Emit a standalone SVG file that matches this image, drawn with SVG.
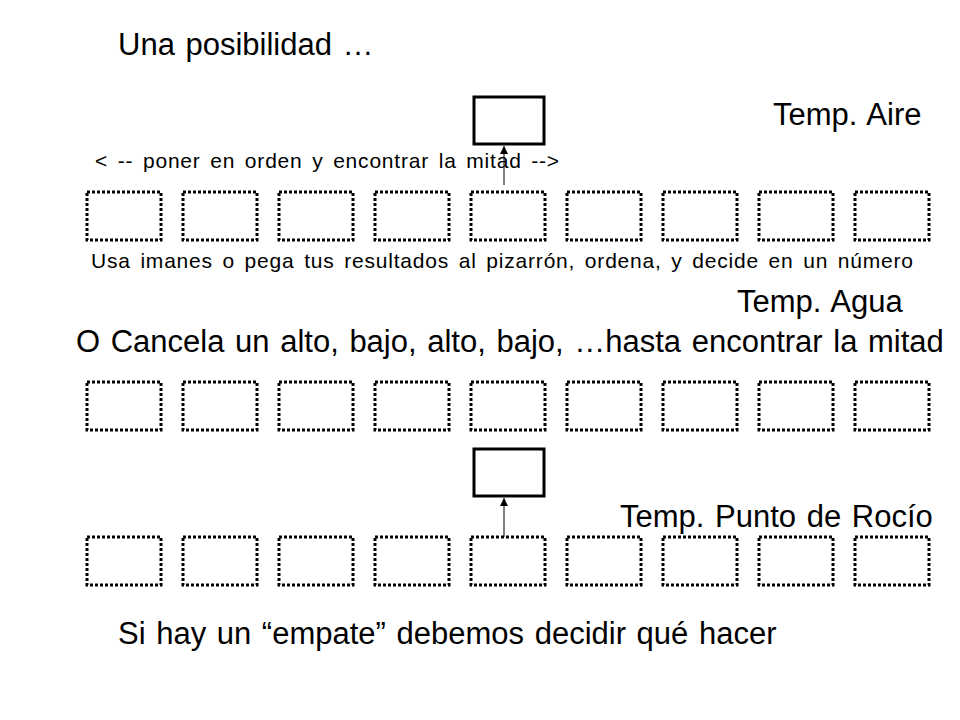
<svg xmlns="http://www.w3.org/2000/svg" width="960" height="720" viewBox="0 0 960 720">
<style>
text{font-family:"Liberation Sans",Arial,sans-serif;fill:#000}
.big{font-size:31px;word-spacing:2px}
.small{font-size:21px;letter-spacing:0.8px;word-spacing:3px}
.dot{fill:none;stroke:#000;stroke-width:3;stroke-dasharray:3 2}
.solid{fill:#fff;stroke:#000;stroke-width:3}
.conn{stroke:#000;stroke-width:1;fill:none}
</style>
<defs>
<marker id="ah" viewBox="0 0 10 10" refX="10" refY="5" markerWidth="8" markerHeight="8" markerUnits="userSpaceOnUse" orient="auto"><path d="M0,0 L10,5 L0,10 z" fill="#000"/></marker>
<rect id="db" class="dot" width="74" height="48"/>
</defs>
<text class="big" x="118" y="55">Una posibilidad  …</text>
<text class="big" x="773" y="125">Temp. Aire</text>
<text class="small" x="95" y="168">&lt; -- poner en orden y encontrar la mitad --&gt;</text>
<text class="small" x="91" y="268">Usa imanes o pega tus resultados al pizarrón, ordena, y decide en un número</text>
<text class="big" x="737" y="312">Temp. Agua</text>
<text class="big" x="76" y="352">O Cancela un alto, bajo, alto, bajo, …hasta encontrar la mitad</text>
<text class="big" x="620" y="527">Temp. Punto de Rocío</text>
<text class="big" x="118" y="644">Si hay un “empate” debemos decidir qué hacer</text>
<g id="row1">
<use href="#db" x="87" y="192"/><use href="#db" x="183" y="192"/><use href="#db" x="279" y="192"/><use href="#db" x="375" y="192"/><use href="#db" x="471" y="192"/><use href="#db" x="567" y="192"/><use href="#db" x="663" y="192"/><use href="#db" x="759" y="192"/><use href="#db" x="855" y="192"/>
</g>
<g id="row2">
<use href="#db" x="87" y="382"/><use href="#db" x="183" y="382"/><use href="#db" x="279" y="382"/><use href="#db" x="375" y="382"/><use href="#db" x="471" y="382"/><use href="#db" x="567" y="382"/><use href="#db" x="663" y="382"/><use href="#db" x="759" y="382"/><use href="#db" x="855" y="382"/>
</g>
<g id="row3">
<use href="#db" x="87" y="537"/><use href="#db" x="183" y="537"/><use href="#db" x="279" y="537"/><use href="#db" x="375" y="537"/><use href="#db" x="471" y="537"/><use href="#db" x="567" y="537"/><use href="#db" x="663" y="537"/><use href="#db" x="759" y="537"/><use href="#db" x="855" y="537"/>
</g>
<g id="median-top"><rect class="solid" x="474" y="97" width="70" height="47"/></g>
<g id="median-bottom"><rect class="solid" x="474" y="449" width="70" height="47"/></g>
<g id="connectors">
<line class="conn" x1="504" y1="185" x2="504" y2="146" marker-end="url(#ah)"/>
<line class="conn" x1="504" y1="537" x2="504" y2="498" marker-end="url(#ah)"/>
</g>
</svg>
